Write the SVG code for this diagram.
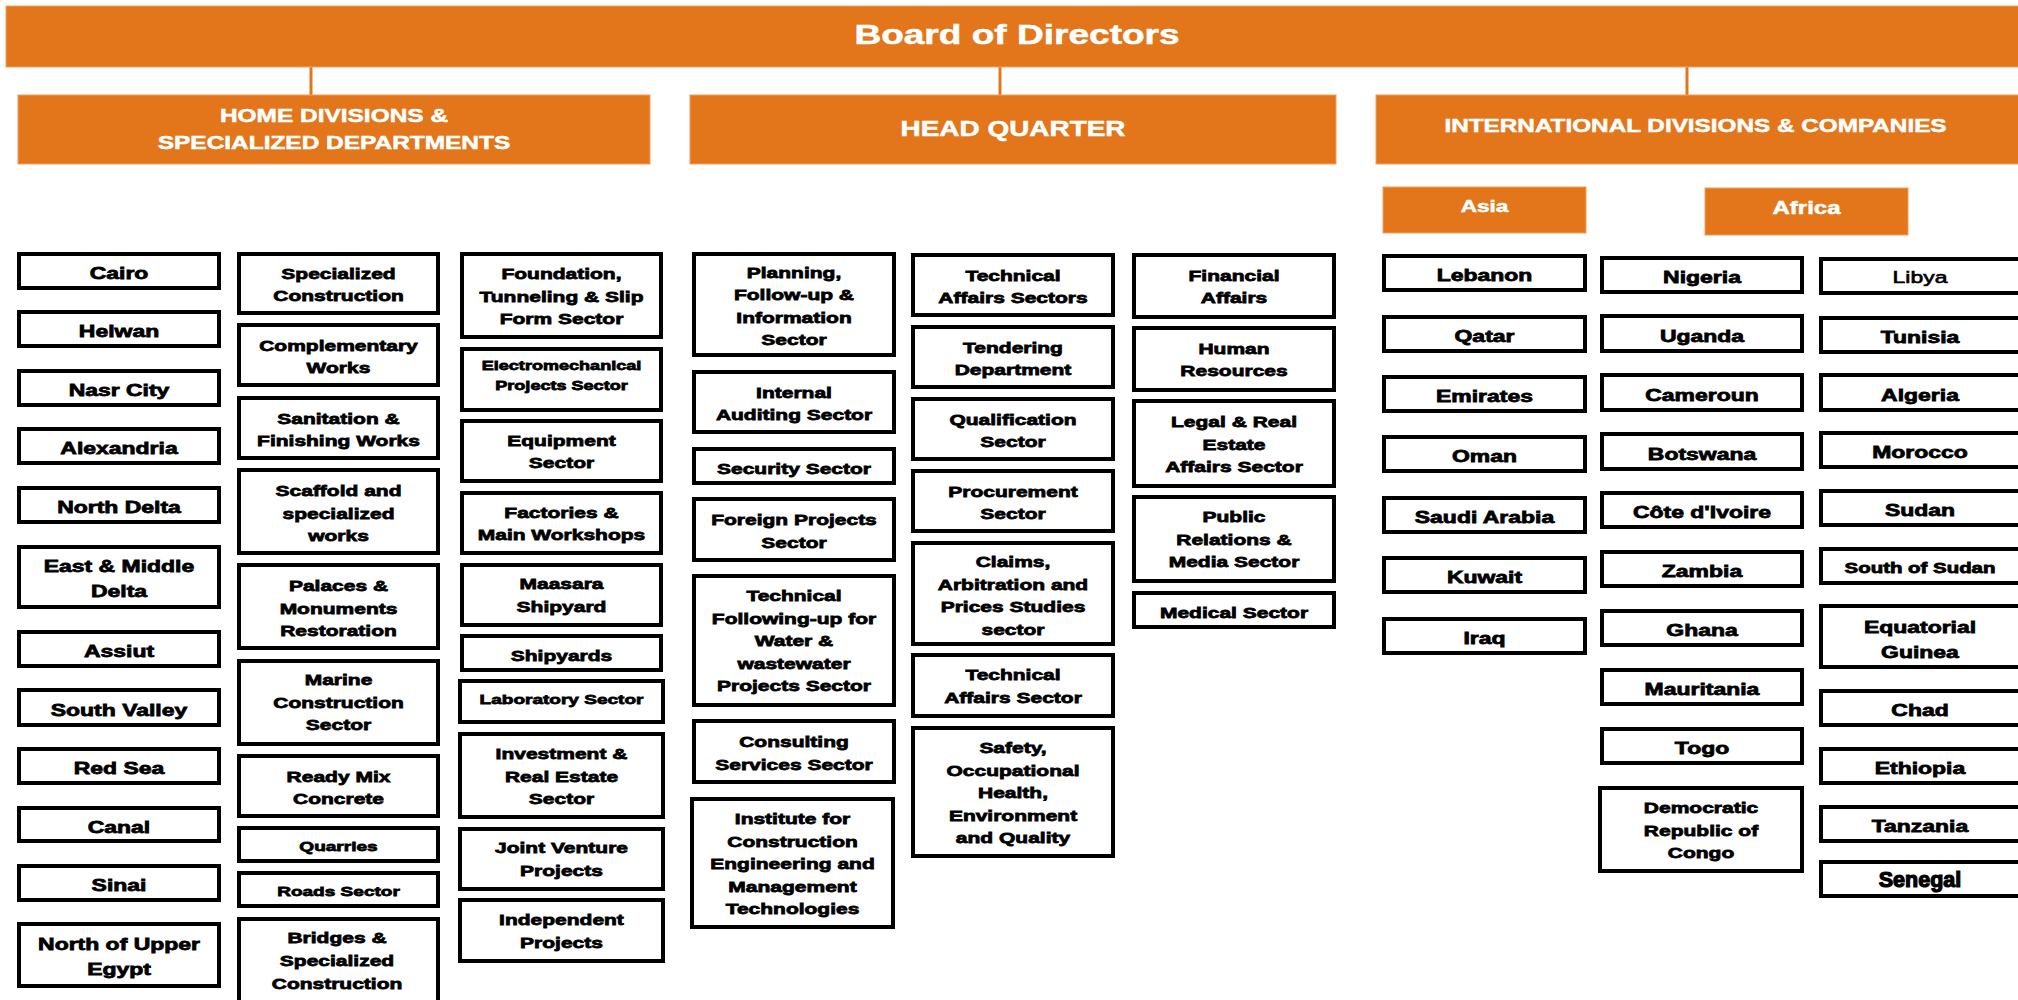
<svg xmlns="http://www.w3.org/2000/svg" width="2018" height="1000" viewBox="0 0 2018 1000">
<style>
.o{fill:#E3761A;stroke:#EF9F60;stroke-width:1}
.w{fill:#fff;stroke:#000;stroke-width:4}
.ht{font-family:"Liberation Sans",Arial,sans-serif;font-weight:bold;fill:#fff;text-anchor:middle;stroke:#fff;stroke-width:0.5}
.t{font-family:"Liberation Sans",Arial,sans-serif;font-weight:bold;fill:#000;text-anchor:middle;stroke:#000;stroke-width:0.75}
.a{font-size:16.4px}.b{font-size:15px}.s{font-size:13.6px}.e{font-size:12.9px}
.c{stroke:#E3761A;stroke-width:3;fill:none}
</style>
<rect width="2018" height="1000" fill="#fff"/>
<g id="connectors">
<line class="c" x1="311" y1="67" x2="311" y2="95"/>
<line class="c" x1="1000" y1="67" x2="1000" y2="95"/>
<line class="c" x1="1687" y1="67" x2="1687" y2="95"/>
</g>
<g id="n-board"><rect class="o" x="6" y="6" width="2016" height="61"/><text class="ht" transform="matrix(1.3 0 0 1 1017 0)" style="font-size:28.5px"><tspan x="0" y="44">Board of Directors</tspan></text></g>
<g id="n-home"><rect class="o" x="18" y="95" width="632" height="69"/><text class="ht" transform="matrix(1.3 0 0 1 334 0)" style="font-size:18.8px"><tspan x="0" y="122.5">HOME DIVISIONS &amp;</tspan><tspan x="0" y="149">SPECIALIZED DEPARTMENTS</tspan></text></g>
<g id="n-hq"><rect class="o" x="690" y="95" width="646" height="69"/><text class="ht" transform="matrix(1.3 0 0 1 1013 0)" style="font-size:21.5px"><tspan x="0" y="136">HEAD QUARTER</tspan></text></g>
<g id="n-intl"><rect class="o" x="1376" y="95" width="646" height="69"/><text class="ht" transform="matrix(1.3 0 0 1 1695.5 0)" style="font-size:18.7px"><tspan x="0" y="132.5">INTERNATIONAL DIVISIONS &amp; COMPANIES</tspan></text></g>
<g id="n-asia"><rect class="o" x="1383" y="187" width="203" height="46"/><text class="ht" transform="matrix(1.3 0 0 1 1484.5 0)" style="font-size:17.4px"><tspan x="0" y="212">Asia</tspan></text></g>
<g id="n-africa"><rect class="o" x="1705" y="188" width="203" height="47"/><text class="ht" transform="matrix(1.3 0 0 1 1806.5 0)" style="font-size:18.5px"><tspan x="0" y="214">Africa</tspan></text></g>

<!-- Column 1 -->
<g id="n-cairo"><rect class="w" x="19" y="254" width="200" height="34"/><text class="t a" transform="matrix(1.4 0 0 1 119 0)"><tspan x="0" y="279.5">Cairo</tspan></text></g>
<g id="n-helwan"><rect class="w" x="19" y="312" width="200" height="34"/><text class="t a" transform="matrix(1.4 0 0 1 119 0)"><tspan x="0" y="337.5">Helwan</tspan></text></g>
<g id="n-nasr"><rect class="w" x="19" y="371" width="200" height="34"/><text class="t a" transform="matrix(1.4 0 0 1 119 0)"><tspan x="0" y="396.5">Nasr City</tspan></text></g>
<g id="n-alex"><rect class="w" x="19" y="429" width="200" height="34"/><text class="t a" transform="matrix(1.4 0 0 1 119 0)"><tspan x="0" y="454.5">Alexandria</tspan></text></g>
<g id="n-northdelta"><rect class="w" x="19" y="488" width="200" height="34"/><text class="t a" transform="matrix(1.4 0 0 1 119 0)"><tspan x="0" y="513.5">North Delta</tspan></text></g>
<g id="n-eastdelta"><rect class="w" x="19" y="547" width="200" height="60"/><text class="t a" transform="matrix(1.4 0 0 1 119 0)"><tspan x="0" y="572.5">East &amp; Middle</tspan><tspan x="0" y="597">Delta</tspan></text></g>
<g id="n-assiut"><rect class="w" x="19" y="632" width="200" height="34"/><text class="t a" transform="matrix(1.4 0 0 1 119 0)"><tspan x="0" y="657.5">Assiut</tspan></text></g>
<g id="n-southvalley"><rect class="w" x="19" y="690" width="200" height="35"/><text class="t a" transform="matrix(1.4 0 0 1 119 0)"><tspan x="0" y="716">South Valley</tspan></text></g>
<g id="n-redsea"><rect class="w" x="19" y="749" width="200" height="34"/><text class="t a" transform="matrix(1.4 0 0 1 119 0)"><tspan x="0" y="774.5">Red Sea</tspan></text></g>
<g id="n-canal"><rect class="w" x="19" y="808" width="200" height="33"/><text class="t a" transform="matrix(1.4 0 0 1 119 0)"><tspan x="0" y="833">Canal</tspan></text></g>
<g id="n-sinai"><rect class="w" x="19" y="866" width="200" height="34"/><text class="t a" transform="matrix(1.4 0 0 1 119 0)"><tspan x="0" y="891.5">Sinai</tspan></text></g>
<g id="n-upperegypt"><rect class="w" x="19" y="924" width="200" height="62"/><text class="t a" transform="matrix(1.4 0 0 1 119 0)"><tspan x="0" y="950.5">North of Upper</tspan><tspan x="0" y="975.5">Egypt</tspan></text></g>

<!-- Column 2 -->
<g id="n-specconst"><rect class="w" x="239" y="254" width="199" height="59"/><text class="t b" transform="matrix(1.4 0 0 1 338.5 0)"><tspan x="0" y="279">Specialized</tspan><tspan x="0" y="301.5">Construction</tspan></text></g>
<g id="n-complementary"><rect class="w" x="239" y="325" width="199" height="60"/><text class="t b" transform="matrix(1.4 0 0 1 338.5 0)"><tspan x="0" y="351">Complementary</tspan><tspan x="0" y="373.5">Works</tspan></text></g>
<g id="n-sanitation"><rect class="w" x="239" y="398" width="199" height="60"/><text class="t b" transform="matrix(1.4 0 0 1 338.5 0)"><tspan x="0" y="424">Sanitation &amp;</tspan><tspan x="0" y="446.5">Finishing Works</tspan></text></g>
<g id="n-scaffold"><rect class="w" x="239" y="470" width="199" height="83"/><text class="t b" transform="matrix(1.4 0 0 1 338.5 0)"><tspan x="0" y="496.5">Scaffold and</tspan><tspan x="0" y="519">specialized</tspan><tspan x="0" y="541.5">works</tspan></text></g>
<g id="n-palaces"><rect class="w" x="239" y="565" width="199" height="83"/><text class="t b" transform="matrix(1.4 0 0 1 338.5 0)"><tspan x="0" y="591.5">Palaces &amp;</tspan><tspan x="0" y="614">Monuments</tspan><tspan x="0" y="636.5">Restoration</tspan></text></g>
<g id="n-marine"><rect class="w" x="239" y="661" width="199" height="83"/><text class="t b" transform="matrix(1.4 0 0 1 338.5 0)"><tspan x="0" y="685.5">Marine</tspan><tspan x="0" y="708">Construction</tspan><tspan x="0" y="730.5">Sector</tspan></text></g>
<g id="n-readymix"><rect class="w" x="239" y="756" width="199" height="60"/><text class="t b" transform="matrix(1.4 0 0 1 338.5 0)"><tspan x="0" y="782">Ready Mix</tspan><tspan x="0" y="804.5">Concrete</tspan></text></g>
<g id="n-quarries"><rect class="w" x="239" y="828" width="199" height="33"/><text class="t s" transform="matrix(1.4 0 0 1 338.5 0)"><tspan x="0" y="851">Quarries</tspan></text></g>
<g id="n-roads"><rect class="w" x="239" y="873" width="199" height="33"/><text class="t s" transform="matrix(1.4 0 0 1 338.5 0)"><tspan x="0" y="896">Roads Sector</tspan></text></g>
<g id="n-bridges"><rect class="w" x="239" y="919" width="199" height="90"/><text class="t b" transform="matrix(1.4 0 0 1 337 0)"><tspan x="0" y="943.5">Bridges &amp;</tspan><tspan x="0" y="966.5">Specialized</tspan><tspan x="0" y="989.5">Construction</tspan></text></g>

<!-- Column 3 -->
<g id="n-foundation"><rect class="w" x="462" y="254" width="199" height="83"/><text class="t b" transform="matrix(1.4 0 0 1 561.5 0)"><tspan x="0" y="279.5">Foundation,</tspan><tspan x="0" y="302">Tunneling &amp; Slip</tspan><tspan x="0" y="324.5">Form Sector</tspan></text></g>
<g id="n-electro"><rect class="w" x="462" y="349" width="199" height="61"/><text class="t e" transform="matrix(1.4 0 0 1 561.5 0)"><tspan x="0" y="370.5">Electromechanical</tspan><tspan x="0" y="390">Projects Sector</tspan></text></g>
<g id="n-equipment"><rect class="w" x="462" y="421" width="199" height="60"/><text class="t b" transform="matrix(1.4 0 0 1 561.5 0)"><tspan x="0" y="446">Equipment</tspan><tspan x="0" y="468.5">Sector</tspan></text></g>
<g id="n-factories"><rect class="w" x="462" y="493" width="199" height="60"/><text class="t b" transform="matrix(1.4 0 0 1 561.5 0)"><tspan x="0" y="518">Factories &amp;</tspan><tspan x="0" y="540.5">Main Workshops</tspan></text></g>
<g id="n-maasara"><rect class="w" x="462" y="565" width="199" height="60"/><text class="t b" transform="matrix(1.4 0 0 1 561.5 0)"><tspan x="0" y="589.5">Maasara</tspan><tspan x="0" y="612">Shipyard</tspan></text></g>
<g id="n-shipyards"><rect class="w" x="462" y="636" width="199" height="34"/><text class="t b" transform="matrix(1.4 0 0 1 561.5 0)"><tspan x="0" y="661">Shipyards</tspan></text></g>
<g id="n-laboratory"><rect class="w" x="460" y="681" width="203" height="41"/><text class="t s" transform="matrix(1.4 0 0 1 561.5 0)"><tspan x="0" y="704">Laboratory Sector</tspan></text></g>
<g id="n-investment"><rect class="w" x="460" y="734" width="203" height="83"/><text class="t b" transform="matrix(1.4 0 0 1 561.5 0)"><tspan x="0" y="759.5">Investment &amp;</tspan><tspan x="0" y="782">Real Estate</tspan><tspan x="0" y="804.5">Sector</tspan></text></g>
<g id="n-jointventure"><rect class="w" x="460" y="829" width="203" height="60"/><text class="t b" transform="matrix(1.4 0 0 1 561.5 0)"><tspan x="0" y="853.5">Joint Venture</tspan><tspan x="0" y="876">Projects</tspan></text></g>
<g id="n-independent"><rect class="w" x="460" y="900" width="203" height="61"/><text class="t b" transform="matrix(1.4 0 0 1 561.5 0)"><tspan x="0" y="925.5">Independent</tspan><tspan x="0" y="948">Projects</tspan></text></g>

<!-- Column 4 -->
<g id="n-planning"><rect class="w" x="694" y="254" width="200" height="101"/><text class="t b" transform="matrix(1.4 0 0 1 794 0)"><tspan x="0" y="278">Planning,</tspan><tspan x="0" y="300.5">Follow-up &amp;</tspan><tspan x="0" y="323">Information</tspan><tspan x="0" y="345.5">Sector</tspan></text></g>
<g id="n-auditing"><rect class="w" x="694" y="372" width="200" height="60"/><text class="t b" transform="matrix(1.4 0 0 1 794 0)"><tspan x="0" y="398">Internal</tspan><tspan x="0" y="420.5">Auditing Sector</tspan></text></g>
<g id="n-security"><rect class="w" x="694" y="449" width="200" height="34"/><text class="t b" transform="matrix(1.4 0 0 1 794 0)"><tspan x="0" y="474">Security Sector</tspan></text></g>
<g id="n-foreign"><rect class="w" x="694" y="499" width="200" height="61"/><text class="t b" transform="matrix(1.4 0 0 1 794 0)"><tspan x="0" y="525.5">Foreign Projects</tspan><tspan x="0" y="548">Sector</tspan></text></g>
<g id="n-water"><rect class="w" x="694" y="576" width="200" height="129"/><text class="t b" transform="matrix(1.4 0 0 1 794 0)"><tspan x="0" y="601.5">Technical</tspan><tspan x="0" y="624">Following-up for</tspan><tspan x="0" y="646.5">Water &amp;</tspan><tspan x="0" y="669">wastewater</tspan><tspan x="0" y="691.5">Projects Sector</tspan></text></g>
<g id="n-consulting"><rect class="w" x="694" y="721" width="200" height="61"/><text class="t b" transform="matrix(1.4 0 0 1 794 0)"><tspan x="0" y="747.5">Consulting</tspan><tspan x="0" y="770">Services Sector</tspan></text></g>
<g id="n-institute"><rect class="w" x="692" y="799" width="201" height="128"/><text class="t b" transform="matrix(1.4 0 0 1 792.5 0)"><tspan x="0" y="824.5">Institute for</tspan><tspan x="0" y="847">Construction</tspan><tspan x="0" y="869.5">Engineering and</tspan><tspan x="0" y="892">Management</tspan><tspan x="0" y="914.5">Technologies</tspan></text></g>

<!-- Column 5 -->
<g id="n-techaffairs1"><rect class="w" x="913" y="255" width="200" height="60"/><text class="t b" transform="matrix(1.4 0 0 1 1013 0)"><tspan x="0" y="281">Technical</tspan><tspan x="0" y="303.5">Affairs Sectors</tspan></text></g>
<g id="n-tendering"><rect class="w" x="913" y="327" width="200" height="60"/><text class="t b" transform="matrix(1.4 0 0 1 1013 0)"><tspan x="0" y="353">Tendering</tspan><tspan x="0" y="375.5">Department</tspan></text></g>
<g id="n-qualification"><rect class="w" x="913" y="399" width="200" height="60"/><text class="t b" transform="matrix(1.4 0 0 1 1013 0)"><tspan x="0" y="425">Qualification</tspan><tspan x="0" y="447.5">Sector</tspan></text></g>
<g id="n-procurement"><rect class="w" x="913" y="471" width="200" height="60"/><text class="t b" transform="matrix(1.4 0 0 1 1013 0)"><tspan x="0" y="497">Procurement</tspan><tspan x="0" y="519.5">Sector</tspan></text></g>
<g id="n-claims"><rect class="w" x="913" y="543" width="200" height="101"/><text class="t b" transform="matrix(1.4 0 0 1 1013 0)"><tspan x="0" y="567.5">Claims,</tspan><tspan x="0" y="590">Arbitration and</tspan><tspan x="0" y="612.5">Prices Studies</tspan><tspan x="0" y="635">sector</tspan></text></g>
<g id="n-techaffairs2"><rect class="w" x="913" y="655" width="200" height="61"/><text class="t b" transform="matrix(1.4 0 0 1 1013 0)"><tspan x="0" y="680.5">Technical</tspan><tspan x="0" y="703">Affairs Sector</tspan></text></g>
<g id="n-safety"><rect class="w" x="913" y="728" width="200" height="128"/><text class="t b" transform="matrix(1.4 0 0 1 1013 0)"><tspan x="0" y="753.5">Safety,</tspan><tspan x="0" y="776">Occupational</tspan><tspan x="0" y="798.5">Health,</tspan><tspan x="0" y="821">Environment</tspan><tspan x="0" y="843.5">and Quality</tspan></text></g>

<!-- Column 6 -->
<g id="n-financial"><rect class="w" x="1134" y="255" width="200" height="62"/><text class="t b" transform="matrix(1.4 0 0 1 1234 0)"><tspan x="0" y="281">Financial</tspan><tspan x="0" y="303.5">Affairs</tspan></text></g>
<g id="n-human"><rect class="w" x="1134" y="328" width="200" height="62"/><text class="t b" transform="matrix(1.4 0 0 1 1234 0)"><tspan x="0" y="354">Human</tspan><tspan x="0" y="376.5">Resources</tspan></text></g>
<g id="n-legal"><rect class="w" x="1134" y="401" width="200" height="85"/><text class="t b" transform="matrix(1.4 0 0 1 1234 0)"><tspan x="0" y="427.5">Legal &amp; Real</tspan><tspan x="0" y="450">Estate</tspan><tspan x="0" y="472.5">Affairs Sector</tspan></text></g>
<g id="n-public"><rect class="w" x="1134" y="497" width="200" height="84"/><text class="t b" transform="matrix(1.4 0 0 1 1234 0)"><tspan x="0" y="522.5">Public</tspan><tspan x="0" y="545">Relations &amp;</tspan><tspan x="0" y="567.5">Media Sector</tspan></text></g>
<g id="n-medical"><rect class="w" x="1134" y="593" width="200" height="34"/><text class="t b" transform="matrix(1.4 0 0 1 1234 0)"><tspan x="0" y="618">Medical Sector</tspan></text></g>

<!-- Asia -->
<g id="n-lebanon"><rect class="w" x="1384" y="256" width="201" height="34"/><text class="t a" transform="matrix(1.4 0 0 1 1484.5 0)"><tspan x="0" y="281.5">Lebanon</tspan></text></g>
<g id="n-qatar"><rect class="w" x="1384" y="317" width="201" height="34"/><text class="t a" transform="matrix(1.4 0 0 1 1484.5 0)"><tspan x="0" y="342.5">Qatar</tspan></text></g>
<g id="n-emirates"><rect class="w" x="1384" y="377" width="201" height="34"/><text class="t a" transform="matrix(1.4 0 0 1 1484.5 0)"><tspan x="0" y="402.5">Emirates</tspan></text></g>
<g id="n-oman"><rect class="w" x="1384" y="437" width="201" height="34"/><text class="t a" transform="matrix(1.4 0 0 1 1484.5 0)"><tspan x="0" y="462.5">Oman</tspan></text></g>
<g id="n-saudi"><rect class="w" x="1384" y="498" width="201" height="34"/><text class="t a" transform="matrix(1.4 0 0 1 1484.5 0)"><tspan x="0" y="523.5">Saudi Arabia</tspan></text></g>
<g id="n-kuwait"><rect class="w" x="1384" y="558" width="201" height="34"/><text class="t a" transform="matrix(1.4 0 0 1 1484.5 0)"><tspan x="0" y="583.5">Kuwait</tspan></text></g>
<g id="n-iraq"><rect class="w" x="1384" y="619" width="201" height="34"/><text class="t a" transform="matrix(1.4 0 0 1 1484.5 0)"><tspan x="0" y="644.5">Iraq</tspan></text></g>

<!-- Africa column A -->
<g id="n-nigeria"><rect class="w" x="1602" y="258" width="200" height="34"/><text class="t a" transform="matrix(1.4 0 0 1 1702 0)"><tspan x="0" y="283.5">Nigeria</tspan></text></g>
<g id="n-uganda"><rect class="w" x="1602" y="316" width="200" height="35"/><text class="t a" transform="matrix(1.4 0 0 1 1702 0)"><tspan x="0" y="342">Uganda</tspan></text></g>
<g id="n-cameroun"><rect class="w" x="1602" y="375" width="200" height="35"/><text class="t a" transform="matrix(1.4 0 0 1 1702 0)"><tspan x="0" y="401">Cameroun</tspan></text></g>
<g id="n-botswana"><rect class="w" x="1602" y="434" width="200" height="35"/><text class="t a" transform="matrix(1.4 0 0 1 1702 0)"><tspan x="0" y="460">Botswana</tspan></text></g>
<g id="n-cotedivoire"><rect class="w" x="1602" y="493" width="200" height="34"/><text class="t a" transform="matrix(1.4 0 0 1 1702 0)"><tspan x="0" y="518.5">Côte d'Ivoire</tspan></text></g>
<g id="n-zambia"><rect class="w" x="1602" y="552" width="200" height="34"/><text class="t a" transform="matrix(1.4 0 0 1 1702 0)"><tspan x="0" y="577.5">Zambia</tspan></text></g>
<g id="n-ghana"><rect class="w" x="1602" y="611" width="200" height="34"/><text class="t a" transform="matrix(1.4 0 0 1 1702 0)"><tspan x="0" y="636.5">Ghana</tspan></text></g>
<g id="n-mauritania"><rect class="w" x="1602" y="670" width="200" height="34"/><text class="t a" transform="matrix(1.4 0 0 1 1702 0)"><tspan x="0" y="695.5">Mauritania</tspan></text></g>
<g id="n-togo"><rect class="w" x="1602" y="729" width="200" height="34"/><text class="t a" transform="matrix(1.4 0 0 1 1702 0)"><tspan x="0" y="754.5">Togo</tspan></text></g>
<g id="n-drc"><rect class="w" x="1600" y="788" width="202" height="83"/><text class="t b" transform="matrix(1.4 0 0 1 1701 0)"><tspan x="0" y="813.5">Democratic</tspan><tspan x="0" y="836">Republic of</tspan><tspan x="0" y="858.5">Congo</tspan></text></g>

<!-- Africa column B -->
<g id="n-libya"><rect class="w" x="1821" y="259" width="199" height="34"/><text class="t a" transform="matrix(1.4 0 0 1 1920 0)" style="font-weight:normal;stroke-width:0.6"><tspan x="0" y="283">Libya</tspan></text></g>
<g id="n-tunisia"><rect class="w" x="1821" y="318" width="199" height="34"/><text class="t a" transform="matrix(1.4 0 0 1 1920 0)"><tspan x="0" y="343.5">Tunisia</tspan></text></g>
<g id="n-algeria"><rect class="w" x="1821" y="375" width="199" height="35"/><text class="t a" transform="matrix(1.4 0 0 1 1920 0)"><tspan x="0" y="401">Algeria</tspan></text></g>
<g id="n-morocco"><rect class="w" x="1821" y="433" width="199" height="34"/><text class="t a" transform="matrix(1.4 0 0 1 1920 0)"><tspan x="0" y="458.5">Morocco</tspan></text></g>
<g id="n-sudan"><rect class="w" x="1821" y="491" width="199" height="34"/><text class="t a" transform="matrix(1.4 0 0 1 1920 0)"><tspan x="0" y="516.5">Sudan</tspan></text></g>
<g id="n-southsudan"><rect class="w" x="1821" y="549" width="199" height="34"/><text class="t" transform="matrix(1.4 0 0 1 1920 0)" style="font-size:14.6px"><tspan x="0" y="573">South of Sudan</tspan></text></g>
<g id="n-eqguinea"><rect class="w" x="1821" y="606" width="199" height="61"/><text class="t a" transform="matrix(1.4 0 0 1 1920 0)"><tspan x="0" y="633.5">Equatorial</tspan><tspan x="0" y="658">Guinea</tspan></text></g>
<g id="n-chad"><rect class="w" x="1821" y="691" width="199" height="34"/><text class="t a" transform="matrix(1.4 0 0 1 1920 0)"><tspan x="0" y="716.5">Chad</tspan></text></g>
<g id="n-ethiopia"><rect class="w" x="1821" y="749" width="199" height="34"/><text class="t a" transform="matrix(1.4 0 0 1 1920 0)"><tspan x="0" y="774.5">Ethiopia</tspan></text></g>
<g id="n-tanzania"><rect class="w" x="1821" y="807" width="199" height="34"/><text class="t a" transform="matrix(1.4 0 0 1 1920 0)"><tspan x="0" y="832.5">Tanzania</tspan></text></g>
<g id="n-senegal"><rect class="w" x="1821" y="862" width="199" height="34"/><text class="t" x="1920" y="886.5" style="font-size:21.5px;stroke-width:1.2">Senegal</text></g>
</svg>
